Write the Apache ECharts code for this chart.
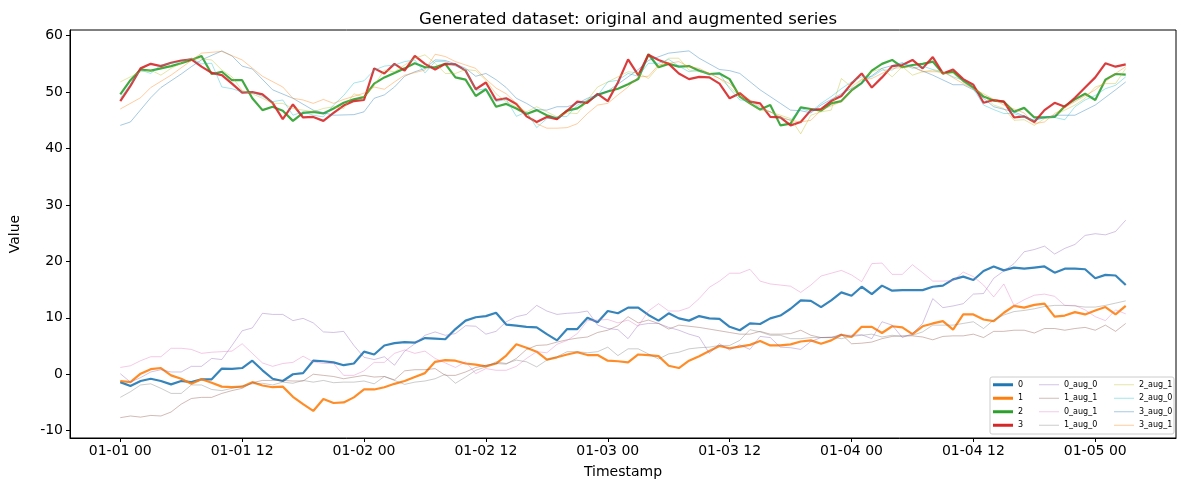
<!DOCTYPE html>
<html>
<head>
<meta charset="utf-8">
<title>Generated dataset</title>
<script src="https://cdn.jsdelivr.net/npm/echarts@6/dist/echarts.min.js"></script>
<style>
  html, body { margin: 0; padding: 0; background: #fff; }
  #main { width: 1189px; height: 490px; }
</style>
</head>
<body>
<div id="main"></div>
<script>
// hours from 01-01 00, one point per hour
var xTickHours = [0, 12, 24, 36, 48, 60, 72, 84, 96];
var xTickLabels = ['01-01 00', '01-01 12', '01-02 00', '01-02 12', '01-03 00', '01-03 12', '01-04 00', '01-04 12', '01-05 00'];
var yTicks = [-10, 0, 10, 20, 30, 40, 50, 60];

// original series (hourly)
var s0 = [-1.4, -2.1, -1.2, -0.8, -1.2, -1.8, -1.2, -1.4, -0.9, -0.9, 1.0, 0.95, 1.1, 2.4, 0.7, -0.8, -1.2, 0.0, 0.2, 2.4, 2.3, 2.1, 1.6, 1.9, 4.0,
  3.5, 5.1, 5.5, 5.7, 5.6, 6.4, 6.3, 6.2, 8.0, 9.5, 10.1, 10.3, 10.9, 8.8, 8.6, 8.4, 8.3, 7.1, 6.0, 8.0, 8.0, 10.0, 9.2, 11.2, 10.8,
  11.8, 11.8, 10.5, 9.5, 10.8, 9.9, 9.5, 10.3, 9.9, 9.8, 8.4, 7.8, 9.0, 8.9, 9.9, 10.4, 11.6, 13.1, 13.0, 11.9, 13.1, 14.5, 13.9, 15.5,
  14.2, 15.7, 14.8, 14.9, 14.9, 14.9, 15.5, 15.7, 16.8, 17.3, 16.7, 18.3, 19.1, 18.4, 18.9, 18.7, 18.9, 19.1, 18.0, 18.7, 18.7, 18.6, 17.0, 17.6, 17.5, 15.8];
var s1 = [-1.2, -1.4, 0.1, 0.9, 1.1, -0.2, -0.8, -1.7, -0.9, -1.5, -2.2, -2.3, -2.2, -1.4, -2.0, -2.3, -2.2, -4.0, -5.3, -6.5, -4.4, -5.1, -5.0, -4.1, -2.7,
  -2.7, -2.3, -1.7, -1.2, -0.5, 0.2, 2.2, 2.5, 2.4, 1.9, 1.7, 1.4, 1.9, 3.3, 5.3, 4.7, 4.0, 2.6, 3.0, 3.5, 3.9, 3.4, 3.4, 2.4, 2.3,
  2.1, 3.5, 3.4, 3.2, 1.5, 1.1, 2.4, 3.2, 4.1, 5.0, 4.6, 4.9, 5.2, 5.9, 5.1, 5.1, 5.3, 5.8, 6.0, 5.4, 6.0, 7.0, 6.6, 8.4,
  8.4, 7.3, 8.5, 8.3, 7.1, 8.5, 9.0, 9.4, 7.9, 10.6, 10.6, 9.7, 9.4, 10.9, 12.1, 11.8, 12.3, 12.5, 10.2, 10.4, 11.0, 10.6, 11.3, 11.9, 10.6, 12.1];
var s2 = [49.6, 52.1, 54.0, 53.8, 54.2, 54.6, 55.1, 55.7, 56.4, 53.2, 53.6, 52.1, 52.1, 48.9, 46.8, 47.4, 46.7, 44.9, 46.3, 46.5, 46.2, 47.1, 48.1, 48.7, 49.1,
  51.5, 52.6, 53.4, 54.2, 55.1, 54.4, 54.4, 55.0, 52.6, 52.2, 49.3, 50.5, 47.4, 47.9, 47.1, 46.1, 46.8, 45.9, 45.3, 46.7, 47.1, 48.3, 49.5, 50.1, 50.6,
  51.4, 52.3, 56.7, 54.4, 55.0, 54.5, 54.6, 53.8, 53.2, 53.3, 52.3, 49.2, 48.0, 46.9, 47.7, 44.1, 44.4, 47.3, 47.0, 46.7, 48.0, 48.4, 50.3, 51.6,
  53.8, 55.0, 55.7, 54.4, 54.8, 55.0, 55.4, 53.3, 53.6, 52.0, 50.8, 49.2, 48.5, 48.3, 46.5, 47.2, 45.5, 45.5, 45.6, 47.5, 48.7, 49.7, 48.6, 52.2, 53.2, 53.1];
var s3 = [48.4, 51.1, 54.2, 55.0, 54.6, 55.2, 55.6, 55.8, 54.5, 53.4, 53.0, 51.5, 49.9, 50.0, 49.6, 48.1, 45.2, 47.8, 45.5, 45.6, 44.9, 46.3, 47.6, 48.4, 48.6,
  54.2, 53.3, 55.0, 53.8, 56.4, 55.0, 54.0, 55.0, 54.9, 53.8, 50.5, 51.7, 48.6, 48.9, 47.9, 45.7, 44.7, 45.6, 45.2, 46.7, 48.3, 48.1, 49.7, 48.4, 51.7,
  55.8, 53.0, 56.6, 55.7, 55.0, 53.3, 52.3, 52.7, 52.6, 51.5, 48.9, 49.8, 48.3, 48.0, 45.6, 45.5, 44.1, 44.7, 46.8, 47.0, 48.4, 49.3, 51.5, 53.3,
  50.8, 52.6, 54.6, 54.8, 55.7, 54.2, 56.2, 53.3, 54.0, 52.3, 51.3, 48.1, 48.6, 48.3, 45.5, 45.7, 44.7, 46.8, 48.1, 47.4, 49.0, 50.8, 52.6, 55.1, 54.5, 54.9];

// augmented series, [hour, value]
var a0_0 = [[0,0.1],[1,-1.4],[2,-0.6],[3,0.4],[4,0.8],[5,0.4],[6,0.4],[7,1.4],[8,1.4],[9,2.8],[10,2.6],[11,5.1],[12,7.7],[13,8.2],[14,10.8],[15,10.6],[16,10.6],[17,9.5],[18,9.9],[19,9.1],[20,7.5],[21,7.4],[22,7.6],[23,5.1],[24,3.0],[25,2.6],[26,3.1],[27,1.6],[28,4.1],[29,5.4],[30,6.9],[31,7.5],[32,6.9],[33,7.2],[34,8.6],[35,8.5],[36,7.1],[37,7.6],[38,9.3],[39,10.2],[40,10.6],[41,12.2],[42,11.2],[43,10.6],[44,10.8],[45,10.9],[46,11.2],[47,8.7],[48,8.1],[49,7.9],[50,6.3],[51,8.7],[52,9.0],[53,9.0],[54,8.3],[55,7.8],[56,7.1],[57,6.6],[58,3.7],[59,5.4],[60,4.3],[61,5.2],[62,4.4],[63,6.7],[64,6.5],[65,4.8],[66,4.7],[67,4.4],[68,5.8],[69,6.5],[70,6.5],[71,6.9],[72,6.9],[73,7.0],[74,6.3],[75,9.3],[76,8.7],[77,6.5],[78,7.2],[79,9.0],[80,13.4],[81,11.8],[82,12.1],[83,12.5],[84,14.2],[85,14.3],[86,17.0],[87,18.3],[88,19.6],[89,21.7],[90,22.1],[91,22.7],[92,21.3],[93,22.3],[94,23.0],[95,24.6],[96,24.9],[97,24.7],[98,25.3],[99,27.3]];
var a1_1 = [[0,-7.7],[1,-7.4],[2,-7.6],[3,-7.3],[4,-7.4],[5,-6.7],[6,-5.3],[7,-4.3],[8,-4.1],[9,-4.1],[10,-3.4],[11,-2.9],[12,-2.5],[13,-1.5],[14,-1.1],[15,-1.1],[16,-1.1],[17,-1.2],[18,-1.2],[19,0.0],[20,-0.2],[21,-0.4],[22,-0.8],[23,-0.5],[24,-0.2],[25,-0.5],[26,-0.4],[27,-1.0],[28,0.6],[29,0.8],[30,0.8],[31,1.0],[32,-0.2],[33,-0.2],[34,0.4],[35,1.2],[36,1.6],[37,1.9],[38,1.8],[39,2.8],[40,4.4],[41,5.1],[42,5.2],[43,5.7],[44,6.1],[45,6.4],[46,6.6],[47,7.4],[48,7.8],[49,8.6],[50,10.2],[51,9.1],[52,9.6],[53,9.0],[54,8.0],[55,8.7],[56,8.5],[57,8.3],[58,8.0],[59,7.7],[60,7.4],[61,7.1],[62,7.1],[63,7.6],[64,7.1],[65,7.1],[66,7.2],[67,7.8],[68,6.9],[69,6.5],[70,6.5],[71,7.1],[72,5.4],[73,5.5],[74,5.7],[75,6.3],[76,6.7],[77,6.8],[78,6.8],[79,6.6],[80,6.1],[81,6.7],[82,6.8],[83,6.8],[84,7.1],[85,6.5],[86,7.6],[87,7.6],[88,7.8],[89,7.8],[90,7.3],[91,8.1],[92,8.1],[93,7.8],[94,8.1],[95,8.3],[96,7.8],[97,8.7],[98,7.6],[99,9.0]];
var a0_1 = [[0,1.2],[1,1.5],[2,2.4],[3,3.1],[4,3.1],[5,4.6],[6,4.6],[7,4.4],[8,3.7],[9,3.9],[10,4.0],[11,4.1],[12,5.4],[13,3.7],[14,2.0],[15,1.4],[16,1.9],[17,2.1],[18,3.2],[19,2.2],[20,1.9],[21,1.9],[22,-0.2],[23,-0.2],[24,0.6],[25,2.1],[26,2.1],[27,3.7],[28,4.3],[29,3.7],[30,4.1],[31,2.8],[32,2.0],[33,1.2],[34,2.2],[35,0.1],[36,1.0],[37,0.7],[38,0.7],[39,1.4],[40,2.8],[41,4.0],[42,3.8],[43,5.3],[44,6.0],[45,7.2],[46,9.5],[47,9.6],[48,9.7],[49,9.1],[50,9.6],[51,8.5],[52,11.2],[53,12.5],[54,11.2],[55,11.2],[56,11.8],[57,13.4],[58,15.4],[59,16.5],[60,17.9],[61,17.9],[62,18.6],[63,16.5],[64,16.0],[65,15.8],[66,15.6],[67,14.5],[68,15.8],[69,17.4],[70,17.9],[71,18.4],[72,17.6],[73,16.4],[74,19.6],[75,19.7],[76,17.7],[77,17.7],[78,19.4],[79,18.0],[80,16.5],[81,16.5],[82,16.6],[83,18.1],[84,17.3],[85,15.8],[86,13.7],[87,16.0],[88,12.2],[89,13.2],[90,14.0],[91,14.2],[92,13.8],[93,12.2],[94,12.2],[95,11.4],[96,10.2],[97,9.5],[98,11.4],[99,10.7]];
var a1_0 = [[0,-4.1],[1,-3.1],[2,-1.9],[3,-1.7],[4,-2.5],[5,-3.4],[6,-3.4],[7,-1.9],[8,-1.9],[9,-2.7],[10,-2.9],[11,-2.5],[12,-2.1],[13,-1.7],[14,-1.6],[15,-1.9],[16,-1.4],[17,-1.6],[18,-1.1],[19,-1.4],[20,-1.1],[21,-1.5],[22,-1.4],[23,-1.4],[24,-1.2],[25,-1.7],[26,-0.4],[27,-1.1],[28,-1.8],[29,-1.4],[30,-1.2],[31,-0.8],[32,0.0],[33,-1.6],[34,-0.5],[35,0.7],[36,1.3],[37,2.2],[38,1.9],[39,2.5],[40,2.2],[41,1.3],[42,2.5],[43,3.1],[44,4.0],[45,4.0],[46,3.8],[47,4.0],[48,4.8],[49,3.3],[50,4.5],[51,4.5],[52,3.6],[53,2.7],[54,3.6],[55,3.9],[56,4.5],[57,4.7],[58,4.8],[59,5.1],[60,5.1],[61,6.0],[62,7.9],[63,7.5],[64,6.9],[65,6.9],[66,6.3],[67,6.3],[68,6.5],[69,6.5],[70,6.6],[71,6.3],[72,6.7],[73,6.9],[74,7.1],[75,6.6],[76,6.9],[77,6.7],[78,6.9],[79,7.5],[80,8.7],[81,8.7],[82,8.7],[83,9.0],[84,9.3],[85,8.1],[86,9.6],[87,10.5],[88,11.1],[89,11.3],[90,11.6],[91,12.0],[92,12.2],[93,12.2],[94,12.1],[95,11.9],[96,11.9],[97,12.2],[98,12.6],[99,13.0]];
var a2_1 = [[0,51.8],[2,53.6],[3,53.9],[4,53.0],[5,54.2],[6,55.1],[7,56.0],[9,55.7],[10,53.9],[11,52.7],[12,50.3],[13,49.7],[14,48.9],[15,48.0],[16,48.0],[17,47.1],[18,46.8],[19,46.5],[20,47.1],[21,47.4],[22,47.1],[23,49.7],[24,49.1],[25,51.2],[26,53.9],[27,53.6],[28,54.8],[29,56.0],[30,56.6],[31,55.1],[32,53.3],[33,53.3],[34,54.0],[35,53.8],[36,52.1],[37,49.7],[38,48.3],[39,47.4],[40,46.5],[41,47.4],[42,46.5],[43,45.6],[44,46.3],[45,46.2],[46,48.6],[47,50.9],[48,51.8],[49,52.7],[50,53.6],[51,53.4],[52,52.4],[53,54.5],[54,56.0],[55,56.0],[56,53.9],[57,53.6],[58,53.3],[59,52.4],[60,50.9],[61,49.2],[62,48.0],[63,46.8],[64,46.5],[65,45.9],[66,45.3],[67,42.6],[68,45.9],[69,46.5],[70,46.8],[71,52.4],[72,50.9],[73,52.3],[74,53.6],[75,54.2],[76,52.7],[77,54.5],[78,53.0],[79,53.6],[80,53.9],[81,53.3],[82,53.3],[83,51.8],[84,50.6],[85,49.4],[86,47.7],[87,47.1],[88,45.0],[89,45.1],[90,44.1],[91,45.3],[92,45.9],[93,46.8],[94,47.7],[95,48.9],[96,50.9],[97,51.5],[98,51.5],[99,54.2]];
var a2_0 = [[0,48.9],[2,53.9],[3,53.3],[4,54.8],[6,55.4],[7,56.0],[8,55.0],[9,55.1],[10,50.9],[11,50.6],[12,50.0],[13,50.0],[14,49.2],[15,48.3],[16,48.6],[17,45.9],[18,46.5],[19,45.9],[20,45.6],[21,47.7],[22,49.4],[23,51.6],[24,52.0],[25,53.9],[26,54.6],[27,54.8],[28,55.4],[29,55.7],[30,53.4],[31,55.4],[32,55.4],[33,54.6],[34,53.9],[35,50.3],[36,50.6],[37,48.3],[38,48.7],[39,45.7],[40,46.5],[41,43.7],[42,45.3],[43,45.6],[44,45.7],[45,47.7],[46,48.6],[47,49.4],[48,51.8],[49,52.1],[50,53.3],[51,52.8],[52,55.1],[53,55.1],[54,55.8],[55,54.6],[56,53.6],[57,53.9],[58,53.0],[59,53.3],[60,50.6],[61,48.6],[62,48.5],[63,47.1],[64,46.5],[65,45.5],[66,45.0],[67,47.1],[68,46.5],[69,48.0],[70,49.2],[71,50.6],[72,51.8],[73,52.7],[74,52.7],[75,53.9],[76,53.9],[77,55.1],[78,54.2],[79,54.6],[80,54.0],[81,53.6],[82,52.7],[83,52.1],[84,50.6],[85,47.7],[86,46.9],[87,46.2],[88,46.2],[89,45.5],[90,45.0],[91,45.6],[92,45.5],[93,45.1],[94,47.4],[95,48.6],[96,49.4],[97,50.6],[98,51.2],[99,52.7]];
var a3_0 = [[0,44.1],[1,44.7],[3,49.0],[4,50.8],[6,53.2],[7,54.5],[8,55.7],[10,57.3],[11,56.4],[12,54.6],[13,54.1],[15,50.4],[17,48.9],[19,46.8],[21,45.9],[23,46.0],[24,46.5],[25,48.9],[26,49.5],[27,50.9],[28,52.8],[29,53.6],[30,54.2],[31,55.7],[32,55.6],[33,55.0],[34,54.2],[35,52.8],[36,53.3],[37,52.2],[38,50.8],[39,48.9],[40,48.0],[41,46.9],[42,46.8],[43,47.4],[44,47.4],[45,48.0],[46,48.9],[47,49.5],[48,50.2],[49,51.4],[51,54.0],[52,55.6],[54,56.9],[56,57.3],[57,56.0],[59,54.0],[60,53.8],[61,53.3],[63,50.4],[65,48.0],[66,46.8],[67,46.7],[68,46.3],[69,47.7],[71,49.7],[73,51.6],[75,54.2],[77,55.2],[80,53.0],[82,51.3],[83,51.3],[84,50.4],[85,48.9],[86,47.4],[88,46.5],[90,45.0],[92,45.9],[94,45.9],[96,47.7],[98,50.4],[99,51.8]];
var a3_1 = [[0,47.0],[2,49.0],[3,50.8],[5,53.0],[7,55.6],[8,56.9],[10,57.2],[12,55.7],[14,52.8],[16,50.9],[17,48.9],[18,48.6],[19,48.0],[20,48.7],[21,48.0],[22,48.7],[24,49.8],[25,50.9],[26,50.5],[27,51.8],[28,53.0],[30,53.9],[31,56.7],[32,56.3],[33,55.4],[34,54.8],[35,54.2],[36,52.3],[37,50.7],[38,49.7],[39,48.0],[40,46.2],[41,44.4],[42,43.6],[43,43.6],[44,43.7],[45,44.4],[46,46.2],[47,47.7],[48,48.0],[49,49.5],[50,50.9],[51,52.7],[52,52.8],[53,54.8],[55,55.4],[56,54.5],[57,54.2],[58,53.3],[60,51.5],[61,49.7],[62,48.6],[63,47.4],[65,45.6],[66,45.0],[67,44.7],[68,45.0],[69,46.8],[71,48.3],[73,52.2],[74,52.4],[76,54.2],[78,54.5],[79,53.6],[81,53.6],[83,51.5],[85,49.7],[87,47.7],[89,46.3],[90,44.4],[91,44.7],[92,46.2],[94,48.3],[96,50.4],[98,53.3],[99,54.5]];

var myChart = echarts.init(document.getElementById('main'), null, { renderer: 'canvas' });

function hourly(arr) {
    var out = [];
    for (var i = 0; i < arr.length; i++) out.push([i, arr[i]]);
    return out;
}

function mainLine(name, color, arr) {
    return {
        name: name, type: 'line', data: hourly(arr), color: color,
        showSymbol: false, symbol: 'none', silent: true,
        lineStyle: { width: 2.2, opacity: 0.9 }
    };
}

function augLine(name, color, arr) {
    return {
        name: name, type: 'line', data: arr, color: color,
        showSymbol: false, symbol: 'none', silent: true,
        lineStyle: { width: 1 }
    };
}

// matplotlib fills the legend column by column, so one legend per column
function legendCol(left, names, h) {
    return {
        orient: 'vertical', left: left, top: 380, padding: 0,
        itemWidth: 20, itemHeight: h, itemGap: 4, icon: 'rect',
        selectedMode: false, z: 20,
        textStyle: { fontSize: 8, lineHeight: 9.5, color: '#000', fontFamily: 'DejaVu Sans' },
        data: names
    };
}

option = {
    animation: false,
    textStyle: { fontFamily: 'DejaVu Sans' },
    title: {
        text: 'Generated dataset: original and augmented series',
        left: 623, top: 6, textAlign: 'center',
        textStyle: { fontSize: 16.5, fontWeight: 'normal', color: '#000' }
    },
    grid: { left: 70, right: 13, top: 30, bottom: 52, show: true, borderColor: '#000', borderWidth: 1 },
    legend: [
        legendCol(993, ['0', '1', '2', '3'], 3),
        legendCol(1039, ['0_aug_0', '1_aug_1', '0_aug_1', '1_aug_0'], 1),
        legendCol(1114, ['2_aug_1', '2_aug_0', '3_aug_0', '3_aug_1'], 1)
    ],
    graphic: [{
        type: 'rect', z: 10,
        shape: { x: 990, y: 377, width: 184, height: 57, r: 2 },
        style: { fill: 'rgba(255,255,255,0.8)', stroke: '#ccc', lineWidth: 1 }
    }],
    xAxis: {
        type: 'value', min: -4.95, max: 103.95,
        name: 'Timestamp', nameLocation: 'middle', nameGap: 27,
        nameTextStyle: { fontSize: 14, color: '#000' },
        splitLine: { show: false },
        axisLine: { onZero: false, lineStyle: { color: '#000' } },
        axisTick: { length: 4, lineStyle: { color: '#000' }, customValues: xTickHours },
        axisLabel: {
            fontSize: 14, color: '#000', margin: 6, customValues: xTickHours,
            formatter: function (v) { return xTickLabels[xTickHours.indexOf(v)]; }
        }
    },
    yAxis: {
        type: 'value', min: -11.3, max: 61.0,
        name: 'Value', nameLocation: 'middle', nameGap: 48, nameRotate: 90,
        nameTextStyle: { fontSize: 14, color: '#000' },
        splitLine: { show: false },
        axisLine: { show: true, onZero: false, lineStyle: { color: '#000' } },
        axisTick: { show: true, length: 4, lineStyle: { color: '#000' }, customValues: yTicks },
        axisLabel: { fontSize: 14, color: '#000', margin: 7, customValues: yTicks }
    },
    series: [
        mainLine('0', '#1f77b4', s0),
        mainLine('1', '#ff7f0e', s1),
        mainLine('2', '#2ca02c', s2),
        mainLine('3', '#d62728', s3),
        augLine('0_aug_0', 'rgba(148,103,189,0.4)', a0_0),
        augLine('1_aug_1', 'rgba(140,86,75,0.4)', a1_1),
        augLine('0_aug_1', 'rgba(227,119,194,0.4)', a0_1),
        augLine('1_aug_0', 'rgba(127,127,127,0.4)', a1_0),
        augLine('2_aug_1', 'rgba(188,189,34,0.4)', a2_1),
        augLine('2_aug_0', 'rgba(23,190,207,0.4)', a2_0),
        augLine('3_aug_0', 'rgba(31,119,180,0.4)', a3_0),
        augLine('3_aug_1', 'rgba(255,127,14,0.4)', a3_1)
    ]
};

myChart.setOption(option);
</script>
</body>
</html>
